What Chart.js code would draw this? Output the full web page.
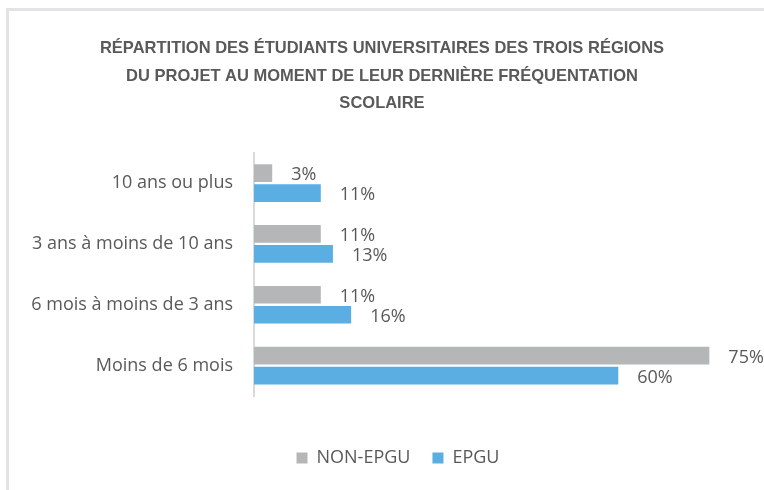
<!DOCTYPE html>
<html>
<head>
<meta charset="utf-8">
<script src="https://cdn.jsdelivr.net/npm/chart.js@4/dist/chart.umd.min.js"></script>
<style>
	html, body { margin: 0; padding: 0; background: #fff; }
	#wrap { position: relative; width: 764px; height: 490px; }
	#frame { position: absolute; left: 6px; top: 8px; right: -10px; bottom: -10px; border-left: 3px solid #e1e3e6; border-top: 3px solid #e1e3e6; }
</style>
</head>
<body>
<div id="wrap">
	<canvas id="canvas" width="764" height="490"></canvas>
	<div id="frame"></div>
</div>
<script>
var categories = ['10 ans ou plus', '3 ans à moins de 10 ans', '6 mois à moins de 3 ans', 'Moins de 6 mois'];
var nonEpgu = [3, 11, 11, 75];
var epgu = [11, 13, 16, 60];
var seriesNames = ['NON-EPGU', 'EPGU'];
var titleLines = [
	'RÉPARTITION DES ÉTUDIANTS UNIVERSITAIRES DES TROIS RÉGIONS',
	'DU PROJET AU MOMENT DE LEUR DERNIÈRE FRÉQUENTATION',
	'SCOLAIRE'
];

var textColor = '#595959';
var fontFamily = '"Open Sans", "Noto Sans", sans-serif';
var titleFamily = '"Liberation Sans", Arial, sans-serif';

// draws the "xx%" labels right of each bar
var valueLabels = {
	id: 'valueLabels',
	afterDatasetsDraw: function(chart) {
		var ctx = chart.ctx;
		ctx.save();
		ctx.font = '18px ' + fontFamily;
		ctx.fillStyle = textColor;
		ctx.textAlign = 'left';
		ctx.textBaseline = 'middle';
		chart.data.datasets.forEach(function(ds, i) {
			var meta = chart.getDatasetMeta(i);
			meta.data.forEach(function(bar, j) {
				ctx.fillText(ds.data[j] + '%', bar.x + 19, bar.y + 2);
			});
		});
		ctx.restore();
	}
};

// the legend sits a bit right of centre in the original
var legendShift = {
	id: 'legendShift',
	afterLayout: function(chart) {
		chart.legend.left += 16;
		chart.legend.right += 16;
	}
};

var config = {
	type: 'bar',
	data: {
		labels: categories,
		datasets: [{
			label: seriesNames[0],
			data: nonEpgu,
			backgroundColor: '#b4b6b8',
			borderWidth: 0
		}, {
			label: seriesNames[1],
			data: epgu,
			backgroundColor: '#5aaee2',
			borderWidth: 0
		}]
	},
	options: {
		indexAxis: 'y',
		responsive: false,
		animation: false,
		datasets: {
			bar: {
				categoryPercentage: 0.66,
				barPercentage: 0.88
			}
		},
		layout: {
			padding: { left: 0, right: 0, top: 0, bottom: 13 }
		},
		plugins: {
			title: {
				display: true,
				text: titleLines,
				color: textColor,
				font: { family: titleFamily, size: 16.5, weight: 'bold', lineHeight: 1.67 },
				padding: { top: 35, bottom: 35 }
			},
			legend: {
				position: 'bottom',
				title: {
					display: true,
					text: '',
					font: { size: 10, lineHeight: 1 },
					padding: { top: 21, bottom: 0 }
				},
				labels: {
					color: textColor,
					font: { family: fontFamily, size: 18 },
					boxWidth: 11,
					boxHeight: 11,
					padding: 22
				}
			},
			tooltip: { enabled: false }
		},
		scales: {
			x: {
				display: false,
				min: 0,
				max: 84
			},
			y: {
				grid: { display: false, drawTicks: false },
				border: { display: true, color: '#d9dadc', width: 2 },
				ticks: {
					color: textColor,
					font: { family: fontFamily, size: 18 },
					padding: 21
				},
				afterFit: function(scale) {
					scale.width = 254;
				}
			}
		}
	},
	plugins: [valueLabels, legendShift]
};

window.onload = function() {
	window.myBar = new Chart(document.getElementById('canvas'), config);
};
</script>
</body>
</html>
